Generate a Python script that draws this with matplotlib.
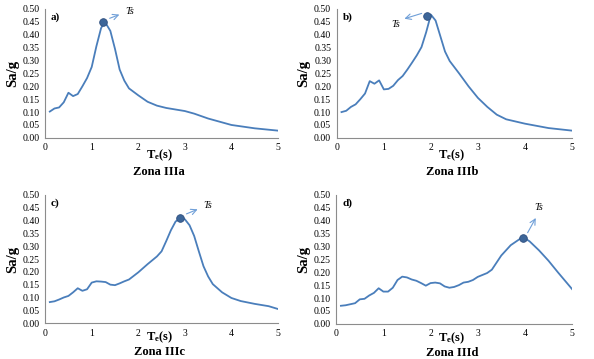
import numpy as np
import matplotlib.pyplot as plt

plt.rcParams['font.family'] = ['Liberation Serif', 'DejaVu Serif']
plt.rcParams['mathtext.fontset'] = 'custom'
plt.rcParams['mathtext.rm'] = 'Liberation Serif'
plt.rcParams['mathtext.bf'] = 'Liberation Serif:bold'
plt.rcParams['mathtext.it'] = 'Liberation Serif:italic'

# periods (s) and spectral ordinates
ta = [0.1, 0.2, 0.3, 0.4, 0.5, 0.6, 0.7, 0.8, 0.9, 1.0, 1.1, 1.2, 1.25, 1.3, 1.4, 1.5, 1.6, 1.7,
      1.8, 2.0, 2.2, 2.4, 2.6, 2.8, 3.0, 3.2, 3.5, 4.0, 4.5, 5.0]
sa_a = [0.102, 0.114, 0.118, 0.138, 0.175, 0.162, 0.170, 0.200, 0.232, 0.275, 0.355, 0.425, 0.443,
        0.445, 0.415, 0.345, 0.265, 0.222, 0.192, 0.165, 0.140, 0.125, 0.116, 0.110, 0.104, 0.094,
        0.075, 0.050, 0.037, 0.028]

tb = [0.1, 0.2, 0.3, 0.4, 0.5, 0.6, 0.7, 0.8, 0.9, 1.0, 1.1, 1.2, 1.3, 1.4, 1.5, 1.6, 1.7, 1.8,
      1.9, 2.0, 2.1, 2.2, 2.3, 2.4, 2.6, 2.8, 3.0, 3.2, 3.4, 3.6, 4.0, 4.5, 5.0]
sa_b = [0.100, 0.105, 0.120, 0.130, 0.150, 0.172, 0.220, 0.210, 0.223, 0.188, 0.190, 0.202, 0.224,
        0.240, 0.265, 0.292, 0.320, 0.352, 0.410, 0.478, 0.455, 0.395, 0.335, 0.298, 0.250, 0.200,
        0.155, 0.120, 0.090, 0.072, 0.055, 0.038, 0.028]

tc = [0.1, 0.2, 0.3, 0.4, 0.5, 0.6, 0.7, 0.8, 0.9, 1.0, 1.1, 1.2, 1.3, 1.4, 1.5, 1.6, 1.7, 1.8,
      2.0, 2.2, 2.4, 2.5, 2.6, 2.7, 2.8, 2.9, 3.0, 3.1, 3.2, 3.3, 3.4, 3.5, 3.6, 3.8, 4.0, 4.2,
      4.5, 4.8, 5.0]
sa_c = [0.082, 0.085, 0.092, 0.100, 0.106, 0.120, 0.136, 0.126, 0.132, 0.158, 0.163, 0.162, 0.160,
        0.150, 0.148, 0.155, 0.163, 0.170, 0.198, 0.230, 0.260, 0.280, 0.320, 0.362, 0.396, 0.410,
        0.405, 0.382, 0.340, 0.280, 0.222, 0.182, 0.152, 0.120, 0.098, 0.086, 0.075, 0.066, 0.055]

td = [0.1, 0.2, 0.3, 0.4, 0.5, 0.6, 0.7, 0.8, 0.9, 1.0, 1.1, 1.2, 1.3, 1.4, 1.5, 1.6, 1.7, 1.8,
      1.9, 2.0, 2.1, 2.2, 2.3, 2.4, 2.5, 2.6, 2.7, 2.8, 2.9, 3.0, 3.2, 3.3, 3.5, 3.7, 3.9, 4.0,
      4.1, 4.3, 4.5, 4.7, 5.0]
sa_d = [0.070, 0.072, 0.076, 0.080, 0.095, 0.097, 0.110, 0.120, 0.138, 0.125, 0.125, 0.140, 0.170,
        0.183, 0.180, 0.172, 0.167, 0.158, 0.148, 0.158, 0.160, 0.157, 0.145, 0.140, 0.143, 0.150,
        0.160, 0.163, 0.170, 0.182, 0.197, 0.210, 0.265, 0.305, 0.330, 0.332, 0.320, 0.285, 0.245,
        0.200, 0.135]

# Ts points (peak period)
ts_x = [1.25, 1.91, 2.9, 3.95]
ts_y = [0.448, 0.474, 0.41, 0.332]

panels = ['a)', 'b)', 'c)', 'd)']
zonas = ['Zona IIIa', 'Zona IIIb', 'Zona IIIc', 'Zona IIId']
ticks_x = [0, 1, 2, 3, 4, 5]
ticks_y = np.arange(0, 0.51, 0.05)

fig = plt.figure(figsize=(5.94, 3.59), dpi=100)
pos = [[0.076, 0.616, 0.392, 0.359],
       [0.567, 0.616, 0.396, 0.359],
       [0.076, 0.100, 0.392, 0.357],
       [0.566, 0.098, 0.397, 0.359]]
# pixel offsets of the two label lines below each x axis
off_te = [17, 17, 14, 14]
off_zona = [34, 34, 29, 29]
xs = [ta, tb, tc, td]
ys = [sa_a, sa_b, sa_c, sa_d]
# where the Ts arrow points and where its label sits
arr_tip = [(1.65, 0.482), (1.38, 0.459), (3.33, 0.448), (4.26, 0.42)]
ts_txt = [(1.72, 0.49), (1.15, 0.440), (3.40, 0.458), (4.20, 0.452)]

line_c = '#4a7ebb'
for i in range(4):
    ax = fig.add_axes(pos[i])
    ax.plot(xs[i], ys[i], color=line_c, lw=1.3)
    ax.plot(ts_x[i], ts_y[i], 'o', ms=5.5, color='#3d6699', mec='#2f4f7f', mew=0.6, zorder=5)
    ax.annotate('', xy=arr_tip[i], xytext=(ts_x[i] + (0.08 if i != 1 else -0.05), ts_y[i] + 0.012),
                arrowprops=dict(arrowstyle='->', color='#6f9fd8', lw=0.8))
    ax.text(ts_txt[i][0], ts_txt[i][1], 'Ts', fontsize=7.5, style='italic', va='center')
    ax.set_xlim(0, 5)
    ax.set_ylim(0, 0.5)
    ax.set_xticks(ticks_x)
    ax.set_yticks(ticks_y)
    ax.set_yticklabels(['%.2f' % v for v in ticks_y])
    ax.tick_params(length=0, labelsize=7, pad=4)
    for s in ['top', 'right']:
        ax.spines[s].set_visible(False)
    for s in ['left', 'bottom']:
        ax.spines[s].set_color('#8c8c8c')
        ax.spines[s].set_linewidth(0.8)
    h_px = pos[i][3] * 359
    ax.text(0.025, 0.975, panels[i], transform=ax.transAxes, fontsize=8, fontweight='bold',
            va='top', ha='left')
    ax.text(0.49, -off_te[i] / h_px, r'$\mathbf{T_e}$' + '(s)', transform=ax.transAxes,
            fontsize=9, fontweight='bold', ha='center', va='center')
    ax.text(0.49, -off_zona[i] / h_px, zonas[i], transform=ax.transAxes, fontsize=9,
            fontweight='bold', ha='center', va='center')
    ax.text(-0.14, 0.5, 'Sa/g', transform=ax.transAxes, fontsize=10.5, fontweight='bold',
            rotation=90, ha='center', va='center')

fig.savefig('out.png', dpi=100)
